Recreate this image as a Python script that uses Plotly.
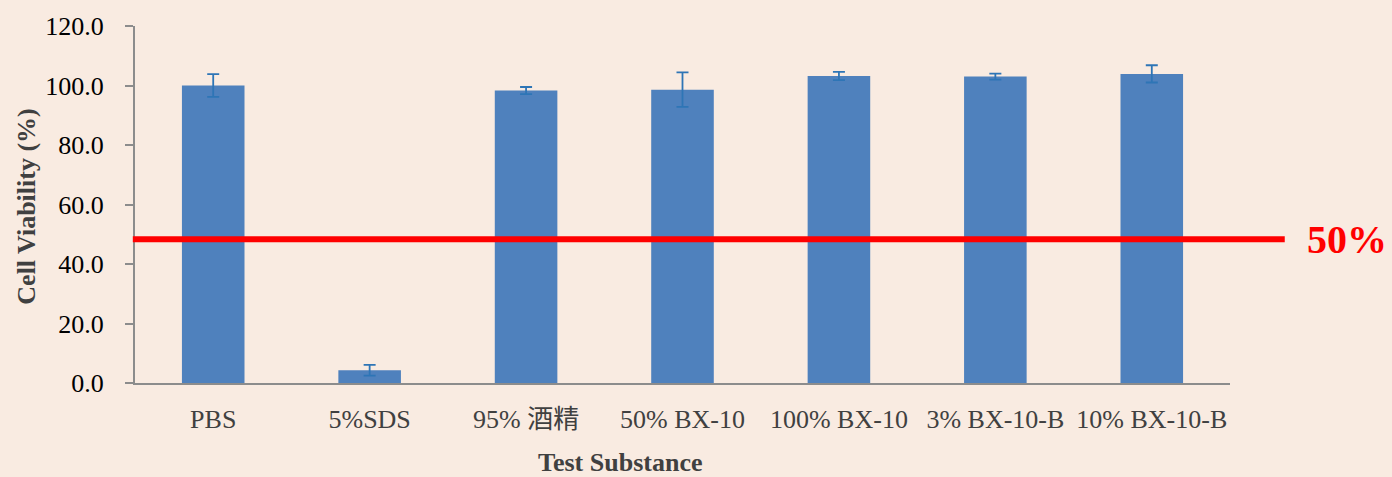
import plotly.graph_objects as go

categories = ["PBS", "5%SDS", "95% 酒精", "50% BX-10", "100% BX-10", "3% BX-10-B", "10% BX-10-B"]
viability = [100.0, 4.3, 98.3, 98.6, 103.2, 103.0, 103.9]
errors = [3.8, 1.8, 1.2, 5.8, 1.4, 1.0, 2.9]
threshold_value = 48.3
threshold_label = "50%"
y_ticks = [0, 20, 40, 60, 80, 100, 120]

fig = go.Figure()
fig.add_trace(go.Bar(
    x=categories, y=viability,
    marker=dict(color="#4f81bd", line=dict(width=0)),
    width=0.4,
    error_y=dict(type="data", array=errors, visible=True, color="#2e75b6",
                 thickness=1.8, width=6),
))

fig.add_shape(type="line", xref="paper", yref="y", x0=-0.002, x1=1.05,
              y0=threshold_value, y1=threshold_value,
              line=dict(color="#ff0000", width=6), layer="above")

fig.add_annotation(x=1.107, y=threshold_value, xref="paper", yref="y",
                   text="<b>" + threshold_label + "</b>", showarrow=False,
                   font=dict(family="Liberation Serif", size=40, color="#ff0000"),
                   xanchor="center", yanchor="middle")

fig.add_annotation(x=-0.0986, y=0.494, xref="paper", yref="paper",
                   text="<b>Cell Viability (%)</b>", showarrow=False, textangle=-90,
                   font=dict(family="Liberation Serif", size=26, color="#404040"),
                   xanchor="center", yanchor="middle")

fig.add_annotation(x=0.443, y=-0.222, xref="paper", yref="paper",
                   text="<b>Test Substance</b>", showarrow=False,
                   font=dict(family="Liberation Serif", size=26, color="#404040"),
                   xanchor="center", yanchor="middle")

fig.update_layout(
    width=1392, height=477,
    margin=dict(l=135, r=162, t=23, b=94),
    paper_bgcolor="#f9ebe1", plot_bgcolor="rgba(0,0,0,0)",
    showlegend=False, bargap=0.6,
    font=dict(family="Liberation Serif, Noto Sans CJK SC", size=26, color="#404040"),
)
fig.update_xaxes(showline=True, linecolor="#8c8c8c", linewidth=2, showgrid=False,
                 ticks="", tickfont=dict(family="Liberation Serif, Noto Sans CJK SC", size=26, color="#404040"),
                 ticklabelstandoff=12)
fig.update_yaxes(range=[0, 120], tickvals=y_ticks, tickformat=".1f",
                 showline=True, linecolor="#8c8c8c", linewidth=2, showgrid=False,
                 ticks="outside", ticklen=8, tickcolor="#8c8c8c", tickwidth=2,
                 tickfont=dict(family="Liberation Serif", size=26, color="#000000"),
                 ticklabelstandoff=16, zeroline=False)

fig.write_html("out.html", config={"displayModeBar": False},
               post_script="document.body.style.margin='0';document.body.style.padding='0';")
